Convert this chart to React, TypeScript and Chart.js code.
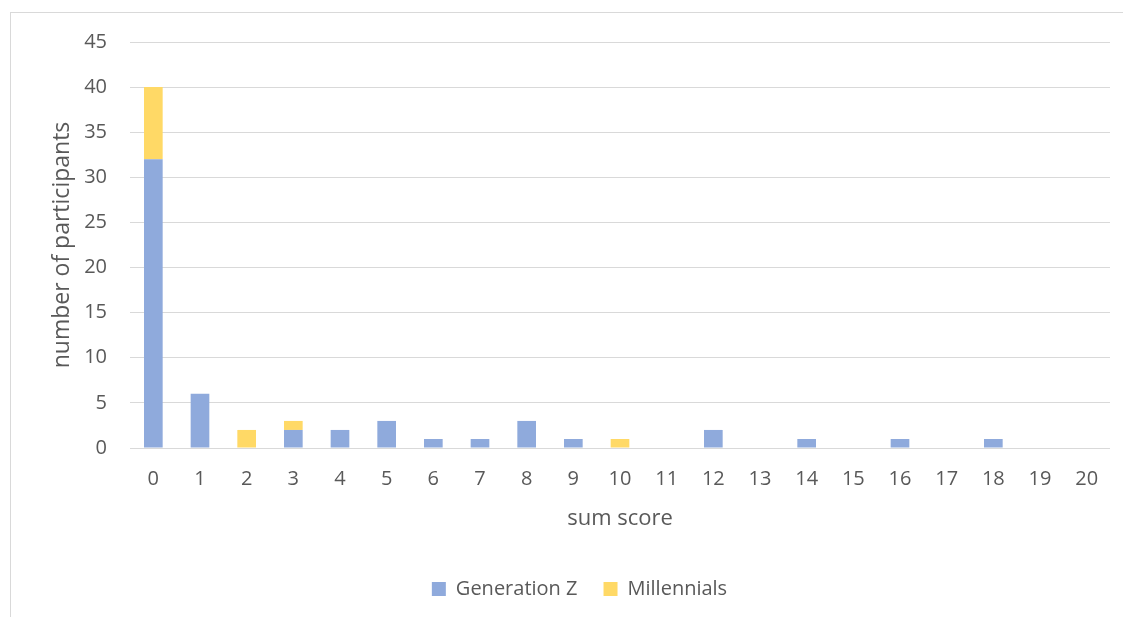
import React, { useEffect, useRef } from "react";
import { Chart, registerables } from "chart.js";

Chart.register(...registerables);

const categories = ["0","1","2","3","4","5","6","7","8","9","10","11","12","13","14","15","16","17","18","19","20"];
const generationZ = [32, 6, 0, 2, 2, 3, 1, 1, 3, 1, 0, 0, 2, 0, 1, 0, 1, 0, 1, 0, 0];
const millennials = [8, 0, 2, 1, 0, 0, 0, 0, 0, 0, 1, 0, 0, 0, 0, 0, 0, 0, 0, 0, 0];
const yTitle = "number of participants";
const xTitle = "sum score";

const FONT = "'Open Sans', 'Noto Sans', sans-serif";
const TEXT = "#595959";
const GRID = "#d9d9d9";

export default function App() {
  const ref = useRef<HTMLCanvasElement | null>(null);

  useEffect(() => {
    if (!ref.current) return;
    const chart = new Chart(ref.current, {
      type: "bar",
      data: {
        labels: categories,
        datasets: [
          { label: "Generation Z", data: generationZ, backgroundColor: "#8faadc", borderWidth: 0 },
          { label: "Millennials", data: millennials, backgroundColor: "#ffd966", borderWidth: 0 },
        ],
      },
      options: {
        responsive: false,
        animation: false,
        layout: { padding: { left: 49, right: 13, top: 42, bottom: 8 } },
        datasets: { bar: { barPercentage: 0.4, categoryPercentage: 1 } },
        plugins: {
          tooltip: { enabled: false },
          legend: {
            position: "bottom",
            labels: {
              color: TEXT,
              font: { family: FONT, size: 20 },
              boxWidth: 14,
              boxHeight: 14,
              padding: 26,
            },
          },
        },
        scales: {
          x: {
            stacked: true,
            grid: { display: false, drawTicks: false },
            border: { display: false },
            ticks: { color: TEXT, font: { family: FONT, size: 20 }, padding: 19, maxRotation: 0 },
            title: {
              display: true,
              text: xTitle,
              color: TEXT,
              font: { family: FONT, size: 22 },
              padding: { top: 0, bottom: 21 },
            },
            afterFit: (s: any) => {
              s.height = 105;
            },
          },
          y: {
            stacked: true,
            min: 0,
            max: 45,
            ticks: { stepSize: 5, color: TEXT, font: { family: FONT, size: 20 }, padding: 23 },
            grid: { color: GRID, lineWidth: 1, drawTicks: false },
            border: { display: false },
            title: {
              display: true,
              text: yTitle,
              color: TEXT,
              font: { family: FONT, size: 23 },
              padding: { top: 0, bottom: 0 },
            },
            afterFit: (s: any) => {
              s.width = 81;
            },
          },
        },
      },
    });
    return () => chart.destroy();
  }, []);

  return (
    <div style={{ position: "fixed", left: 0, top: 0, width: 1123, height: 617, background: "#fff", overflow: "hidden" }}>
      <div
        style={{
          position: "absolute",
          left: 10,
          top: 12,
          width: 1200,
          height: 700,
          border: "1px solid #d9d9d9",
          boxSizing: "border-box",
        }}
      />
      <canvas ref={ref} width={1123} height={617} style={{ position: "absolute", left: 0, top: 0 }} />
    </div>
  );
}
